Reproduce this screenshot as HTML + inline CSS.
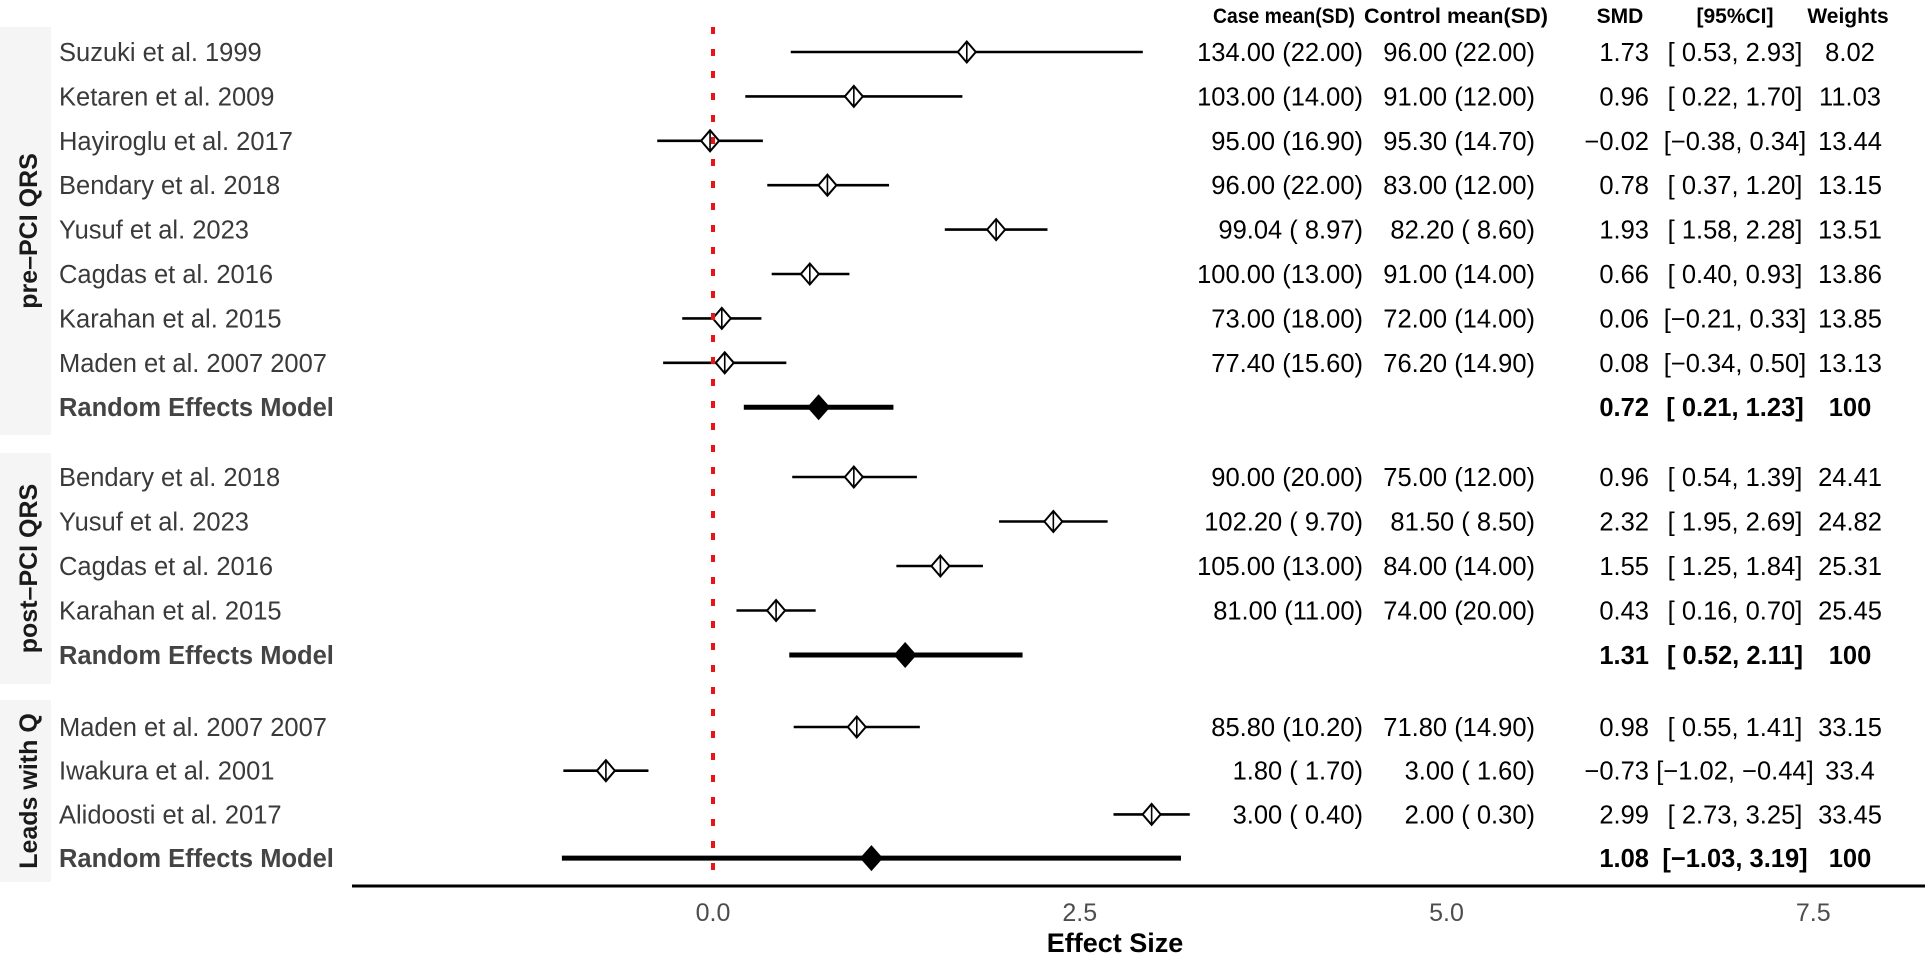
<!DOCTYPE html>
<html><head><meta charset="utf-8">
<style>
html,body{margin:0;padding:0;background:#fff;}
svg{display:block;font-family:"Liberation Sans",Arial,sans-serif;}
text{white-space:pre;}
</style></head>
<body>
<svg id="chart" width="1925" height="958" viewBox="0 0 1925 958" xmlns="http://www.w3.org/2000/svg">
  <g id="strips"></g>
  <g id="rows"></g>
  <g id="marks"></g>
  <line x1="713" y1="27" x2="713" y2="886" stroke="#e8141a" stroke-width="4" stroke-dasharray="7 15"/>
  <g id="table"></g>
  <line x1="352" y1="886" x2="1925" y2="886" stroke="#000" stroke-width="3"/>
  <g id="xaxis"></g>
  <text x="1115" y="952" text-anchor="middle" font-size="27" font-weight="bold" fill="#000">Effect Size</text>
  <g id="headers" font-weight="bold" font-size="21" fill="#000" text-anchor="middle">
    <text x="1284" y="23" textLength="142" lengthAdjust="spacingAndGlyphs">Case mean(SD)</text>
    <text x="1456" y="23" textLength="184" lengthAdjust="spacingAndGlyphs">Control mean(SD)</text>
    <text x="1620" y="23">SMD</text>
    <text x="1735" y="23">[95%CI]</text>
    <text x="1848" y="23">Weights</text>
  </g>
</svg>
<script>
const groupNames = ["pre\u2013PCI QRS", "post\u2013PCI QRS", "Leads with Q"];
const studyLabels = [
 ["Suzuki et al. 1999","Ketaren et al. 2009","Hayiroglu et al. 2017","Bendary et al. 2018","Yusuf et al. 2023","Cagdas et al. 2016","Karahan et al. 2015","Maden et al. 2007 2007","Random Effects Model"],
 ["Bendary et al. 2018","Yusuf et al. 2023","Cagdas et al. 2016","Karahan et al. 2015","Random Effects Model"],
 ["Maden et al. 2007 2007","Iwakura et al. 2001","Alidoosti et al. 2017","Random Effects Model"]
];
const smd = [
 [1.73,0.96,-0.02,0.78,1.93,0.66,0.06,0.08,0.72],
 [0.96,2.32,1.55,0.43,1.31],
 [0.98,-0.73,2.99,1.08]
];
const ciLow = [
 [0.53,0.22,-0.38,0.37,1.58,0.40,-0.21,-0.34,0.21],
 [0.54,1.95,1.25,0.16,0.52],
 [0.55,-1.02,2.73,-1.03]
];
const ciHigh = [
 [2.93,1.70,0.34,1.20,2.28,0.93,0.33,0.50,1.23],
 [1.39,2.69,1.84,0.70,2.11],
 [1.41,-0.44,3.25,3.19]
];
const weights = [
 ["8.02","11.03","13.44","13.15","13.51","13.86","13.85","13.13","100"],
 ["24.41","24.82","25.31","25.45","100"],
 ["33.15","33.4","33.45","100"]
];
const caseMean = [
 ["134.00 (22.00)","103.00 (14.00)","95.00 (16.90)","96.00 (22.00)","99.04 ( 8.97)","100.00 (13.00)","73.00 (18.00)","77.40 (15.60)",""],
 ["90.00 (20.00)","102.20 ( 9.70)","105.00 (13.00)","81.00 (11.00)",""],
 ["85.80 (10.20)","1.80 ( 1.70)","3.00 ( 0.40)",""]
];
const controlMean = [
 ["96.00 (22.00)","91.00 (12.00)","95.30 (14.70)","83.00 (12.00)","82.20 ( 8.60)","91.00 (14.00)","72.00 (14.00)","76.20 (14.90)",""],
 ["75.00 (12.00)","81.50 ( 8.50)","84.00 (14.00)","74.00 (20.00)",""],
 ["71.80 (14.90)","3.00 ( 1.60)","2.00 ( 0.30)",""]
];
const xTicks = [0, 2.5, 5.0, 7.5];
const xTickLabels = ["0.0","2.5","5.0","7.5"];

const NS = "http://www.w3.org/2000/svg";
const X0 = 713, XU = 146.7;
function xs(v){ return X0 + XU*v; }
const groupTop = [52, 477, 727];
const rowStep = [44.4, 44.5, 43.7];
const stripSpans = [[27,435],[453,684],[700,882]];
function ys(g,i){ return groupTop[g] + rowStep[g]*i; }
function mk(tag, attrs, parent){ const e=document.createElementNS(NS,tag); for(const k in attrs) e.setAttribute(k,attrs[k]); parent.appendChild(e); return e; }
function fmt(v){ return (v<0?"\u2212":" ")+Math.abs(v).toFixed(2); }

const strips=document.getElementById('strips'), rows=document.getElementById('rows'), marks=document.getElementById('marks'), table=document.getElementById('table'), xaxis=document.getElementById('xaxis');

groupNames.forEach((gn,g)=>{
  const r=mk('rect',{x:0,y:stripSpans[g][0],width:51,height:stripSpans[g][1]-stripSpans[g][0],fill:'#f5f5f5'},strips);
  
  
  const cy=(stripSpans[g][0]+stripSpans[g][1])/2;
  const t=mk('text',{x:0,y:0,transform:`translate(37,${cy}) rotate(-90)`,'text-anchor':'middle','font-size':25,'font-weight':'bold',fill:'#1a1a1a'},strips);
  t.textContent=gn;
  
  

  studyLabels[g].forEach((lab,i)=>{
    const y=ys(g,i);
    const isModel = lab==="Random Effects Model";
    const tl=mk('text',{x:59,y:y+9,'font-size':25.5,fill:isModel?'#444':'#3a3a3a','font-weight':isModel?'bold':'normal'},rows);
    tl.textContent=lab;
    
    

    const ln=mk('line',{x1:xs(ciLow[g][i]),x2:xs(ciHigh[g][i]),y1:y,y2:y,stroke:'#000','stroke-width':isModel?5:2.6},marks);
    
    
    const cx=xs(smd[g][i]);
    if(isModel){
      const d=mk('polygon',{points:`${cx-11.5},${y} ${cx},${y-13} ${cx+11.5},${y} ${cx},${y+13}`,fill:'#000'},marks);
      
      
    } else {
      const d=mk('polygon',{points:`${cx-9},${y} ${cx},${y-10.5} ${cx+9},${y} ${cx},${y+10.5}`,fill:'#fff',stroke:'#000','stroke-width':2},marks);
      
      
      mk('line',{x1:cx,x2:cx,y1:y-10.5,y2:y+10.5,stroke:'#000','stroke-width':1.6},marks);
    }

    const fw=isModel?'bold':'normal', fc='#000';
    if(caseMean[g][i]){
      const c=mk('text',{x:1363,y:y+9,'text-anchor':'end','font-size':25.5,fill:fc},table);
      c.textContent=caseMean[g][i];
      
      
      const k=mk('text',{x:1535,y:y+9,'text-anchor':'end','font-size':25.5,fill:fc},table);
      k.textContent=controlMean[g][i];
      
      
    }
    const s=mk('text',{x:1649,y:y+9,'text-anchor':'end','font-size':25.5,'font-weight':fw,fill:fc},table);
    s.textContent=fmt(smd[g][i]).trim();
    
    
    const lo=fmt(ciLow[g][i]), hi=fmt(ciHigh[g][i]).trim();
    const ci=mk('text',{x:1735,y:y+9,'text-anchor':'middle','font-size':25.5,'font-weight':fw,fill:fc},table);
    ci.textContent=`[${lo}, ${hi}]`;
    
    
    const w=mk('text',{x:1850,y:y+9,'text-anchor':'middle','font-size':25.5,'font-weight':fw,fill:fc},table);
    w.textContent=weights[g][i];
    
    
  });
});

xTicks.forEach((v,i)=>{
  const t=mk('text',{x:xs(v),y:921,'text-anchor':'middle','font-size':25,fill:'#4d4d4d'},xaxis);
  t.textContent=xTickLabels[i];
  
  
});
</script>
</body></html>
